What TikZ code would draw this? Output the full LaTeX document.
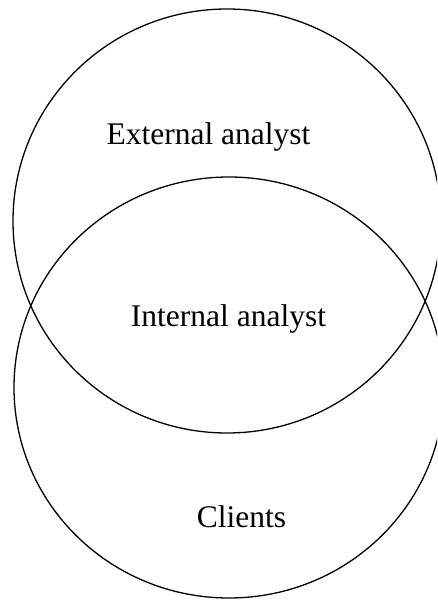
\documentclass[tikz,border=0pt]{standalone}
\usepackage{fontspec}
\setmainfont{Liberation Serif}
\usetikzlibrary{shapes.geometric}
\tikzset{
  ring/.style={draw=black, line width=1.3pt},
  lbl/.style={font=\fontsize{31.5}{36}\selectfont, anchor=base, inner sep=0pt}
}
\begin{document}
\begin{tikzpicture}[x=1pt,y=1pt]
\useasboundingbox (0,0) rectangle (437,600);
\clip (0,0) rectangle (437,600);
\draw[ring] (227,379) ellipse [x radius=214, y radius=212];
\draw[ring] (229,212.5) ellipse [x radius=215, y radius=210.5];
\node[lbl] (ext) at (208.5,455) {External analyst};
\node[lbl] (int) at (228.5,273) {Internal analyst};
\node[lbl] (cli) at (241.5,72) {Clients};
\end{tikzpicture}
\end{document}
